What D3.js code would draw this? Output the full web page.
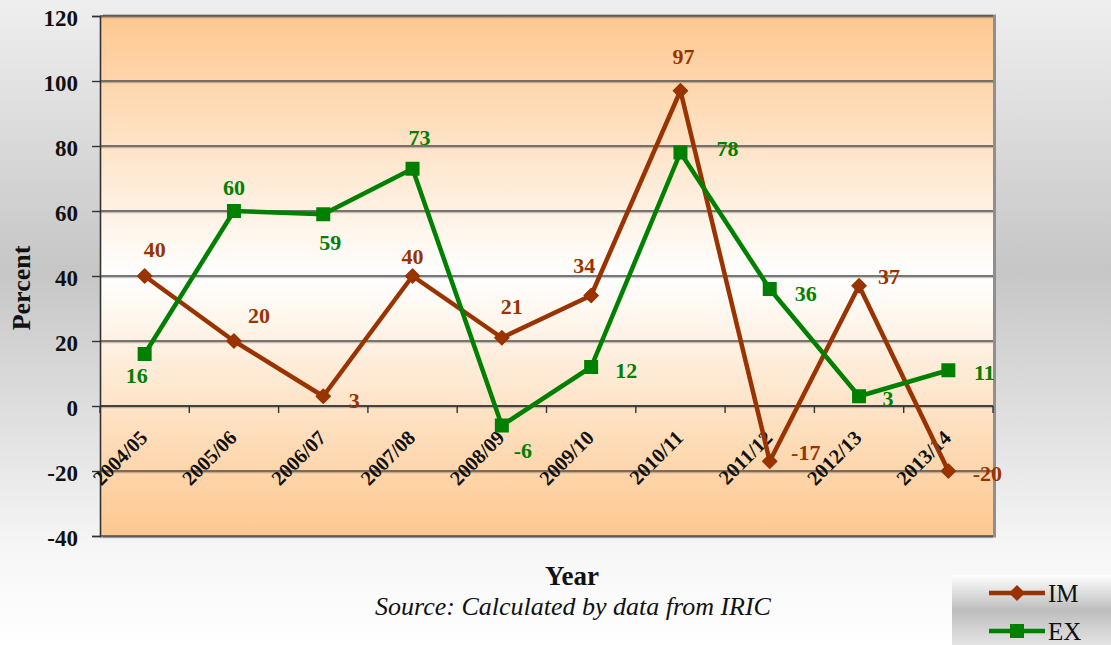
<!DOCTYPE html>
<html><head><meta charset="utf-8">
<script src="https://cdn.jsdelivr.net/npm/d3@7/dist/d3.min.js"></script>
<style>html,body{margin:0;padding:0;background:#fff}svg{display:block}</style>
</head><body>
<svg id="c" width="1111" height="645"></svg>
<script>
// ---- data ----
const categories = ["2004/05","2005/06","2006/07","2007/08","2008/09","2009/10","2010/11","2011/12","2012/13","2013/14"];
const imValues = [40, 20, 3, 40, 21, 34, 97, -17, 37, -20];
const exValues = [16, 60, 59, 73, -6, 12, 78, 36, 3, 11];
const yTicks = [-40, -20, 0, 20, 40, 60, 80, 100, 120];
const seriesNames = ["IM", "EX"];
// label offsets (px) relative to each point
const imLabelOffsets = [[10,-27],[25,-26],[31,4],[0,-20],[10,-31],[-7,-30],[3,-34],[36,-9],[30,-9],[39,2]];
const exLabelOffsets = [[-8,21],[0,-24],[7,28],[7,-31],[21,25],[35,3],[47,-4],[36,4],[29,2],[36,2]];

const svg = d3.select("#c");
const W = 1111, H = 645;
const m = {left:100, right:993, top:16, bottom:536};
const serif = "'Liberation Serif','Times New Roman',serif";
const IMC = "#993300", EXC = "#008000";

const defs = svg.append("defs");
const bg = defs.append("linearGradient").attr("id","bg").attr("x1",0).attr("y1",0).attr("x2",0).attr("y2",1);
[[0,"#efefef"],[0.42,"#c6c6c6"],[0.85,"#f6f6f6"],[1,"#ffffff"]].forEach(s=>bg.append("stop").attr("offset",s[0]).attr("stop-color",s[1]));
const pg = defs.append("linearGradient").attr("id","pg").attr("x1",0).attr("y1",0).attr("x2",0).attr("y2",1);
[[0,"#fdc890"],[0.5,"#ffffff"],[1,"#fdc890"]].forEach(s=>pg.append("stop").attr("offset",s[0]).attr("stop-color",s[1]));
const lg = defs.append("linearGradient").attr("id","lg").attr("x1",0).attr("y1",0).attr("x2",0).attr("y2",1);
[[0,"#ffffff"],[0.5,"#bdbdbd"],[1,"#e4e4e4"]].forEach(s=>lg.append("stop").attr("offset",s[0]).attr("stop-color",s[1]));

svg.append("rect").attr("width",W).attr("height",H).attr("fill","url(#bg)");

const x = d3.scaleBand().domain(categories).range([m.left, m.right]).padding(0);
const y = d3.scaleLinear().domain([-40,120]).range([m.bottom, m.top]);
const cx = d => x(d) + x.bandwidth()/2;

// plot area shadow + fill
svg.append("rect").attr("x",m.left+3).attr("y",m.top-1.5).attr("width",m.right-m.left).attr("height",m.bottom-m.top+3).attr("fill","#8f8f8f");
svg.append("rect").attr("x",m.left).attr("y",m.top).attr("width",m.right-m.left).attr("height",m.bottom-m.top).attr("fill","url(#pg)");

// gridlines
const grid = svg.append("g");
yTicks.forEach(t=>{
  grid.append("line").attr("x1",m.left).attr("x2",m.right).attr("y1",y(t)+1.6).attr("y2",y(t)+1.6).attr("stroke","rgba(0,0,0,0.22)").attr("stroke-width",1.2);
  grid.append("line").attr("x1",m.left).attr("x2",m.right).attr("y1",y(t)).attr("y2",y(t)).attr("stroke","#4a4a4a").attr("stroke-width",1.4);
});

// y axis
const yAxis = svg.append("g").attr("transform",`translate(${m.left},0)`)
  .call(d3.axisLeft(y).tickValues(yTicks).tickSize(8).tickPadding(14).tickFormat(d=>String(d)));
yAxis.select(".domain").attr("stroke","#333").attr("stroke-width",1.6);
yAxis.selectAll(".tick line").attr("stroke","#333").attr("stroke-width",1.4);
yAxis.selectAll(".tick text").attr("font-family",serif).attr("font-weight","bold").attr("font-size",23).attr("fill","#111").attr("dy","0.4em");

// x axis at zero
const bounds = categories.map(c=>x(c)).concat([m.right]);
const xa = svg.append("g");
xa.append("line").attr("x1",m.left).attr("x2",m.right).attr("y1",y(0)).attr("y2",y(0)).attr("stroke","#333").attr("stroke-width",1.4);
bounds.forEach(b=>xa.append("line").attr("x1",b).attr("x2",b).attr("y1",y(0)).attr("y2",y(0)+7).attr("stroke","#333").attr("stroke-width",1.4));
categories.forEach(c=>{
  xa.append("text").attr("transform",`translate(${cx(c)+4},${y(0)+33}) rotate(-45)`)
    .attr("text-anchor","end").attr("font-family",serif).attr("font-weight","bold").attr("font-size",20.5).attr("fill","#111").text(c);
});

// series
const series = [
  {name:"IM", values:imValues, color:IMC, offs:imLabelOffsets, marker:"diamond"},
  {name:"EX", values:exValues, color:EXC, offs:exLabelOffsets, marker:"square"}
];
const line = d3.line().x((d,i)=>cx(categories[i])).y(d=>y(d));
function drawMarker(g, type, color){
  if(type==="diamond") g.append("path").attr("d","M0,-7L7,0L0,7L-7,0Z").attr("fill",color).attr("stroke",color).attr("stroke-width",1.5).attr("stroke-linejoin","round");
  else g.append("rect").attr("x",-7).attr("y",-7).attr("width",14).attr("height",14).attr("fill",color);
}
series.forEach(s=>{
  svg.append("path").datum(s.values).attr("d",line).attr("fill","none").attr("stroke",s.color).attr("stroke-width",4.5).attr("stroke-linejoin","round");
  s.values.forEach((v,i)=>{
    const g = svg.append("g").attr("transform",`translate(${cx(categories[i])},${y(v)})`);
    drawMarker(g, s.marker, s.color);
  });
});
series.forEach(s=>{
  s.values.forEach((v,i)=>{
    svg.append("text").attr("x",cx(categories[i])+s.offs[i][0]).attr("y",y(v)+s.offs[i][1])
      .attr("dy","0.35em").attr("text-anchor","middle").attr("font-family",serif).attr("font-weight","bold")
      .attr("font-size",22).attr("fill",s.color).text(v);
  });
});

// titles
svg.append("text").attr("transform","translate(30,288) rotate(-90)").attr("text-anchor","middle")
  .attr("font-family",serif).attr("font-weight","bold").attr("font-size",26).attr("fill","#111").text("Percent");
svg.append("text").attr("x",572).attr("y",585).attr("text-anchor","middle")
  .attr("font-family",serif).attr("font-weight","bold").attr("font-size",27).attr("fill","#111").text("Year");
svg.append("text").attr("x",573).attr("y",615).attr("text-anchor","middle")
  .attr("font-family",serif).attr("font-style","italic").attr("font-size",26).attr("fill","#111").text("Source: Calculated by data from IRIC");

// legend
const leg = svg.append("g");
leg.append("rect").attr("x",952).attr("y",575).attr("width",159).attr("height",70).attr("fill","url(#lg)");
series.forEach((s,i)=>{
  const ly = 593 + i*38;
  leg.append("line").attr("x1",989).attr("x2",1045).attr("y1",ly).attr("y2",ly).attr("stroke",s.color).attr("stroke-width",4.5);
  const g = leg.append("g").attr("transform",`translate(1017,${ly})`);
  drawMarker(g, s.marker, s.color);
  leg.append("text").attr("x",1048).attr("y",ly+9).attr("font-family",serif).attr("font-size",25).attr("fill","#111").text(seriesNames[i]);
});
</script>
</body></html>
